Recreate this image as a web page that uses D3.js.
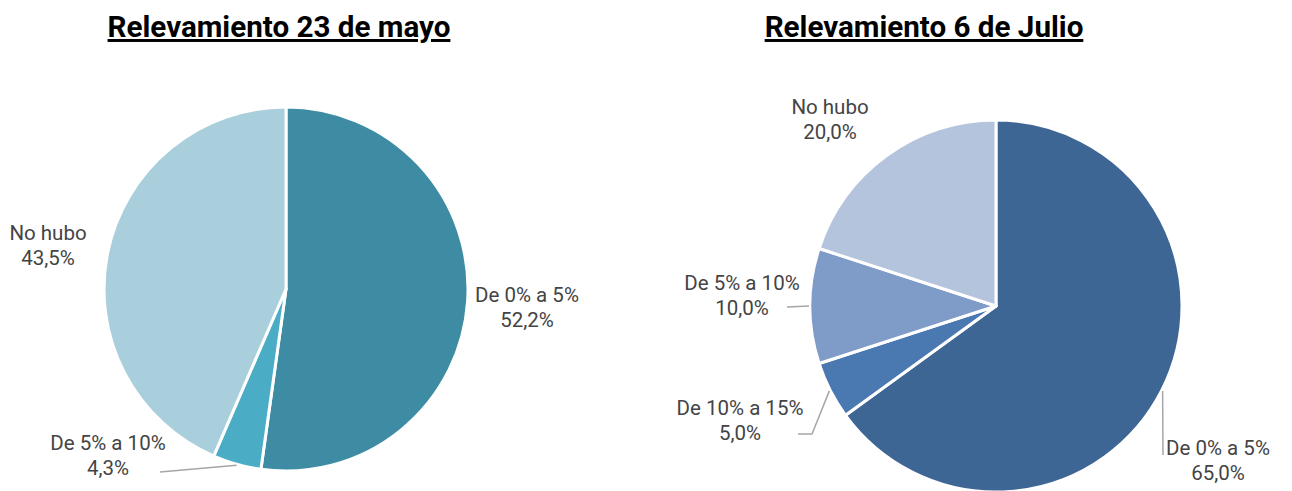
<!DOCTYPE html>
<html><head><meta charset="utf-8">
<script src="https://cdn.jsdelivr.net/npm/d3@7"></script>
<style>html,body{margin:0;padding:0;background:#fff;} svg{display:block;font-family:Roboto,"Noto Sans",sans-serif;}</style>
</head><body>
<script>
// Data
const titles = ["Relevamiento 23 de mayo", "Relevamiento 6 de Julio"];
const categoriesMayo = ["De 0% a 5%", "De 5% a 10%", "No hubo"];
const valuesMayo = [52.2, 4.3, 43.5];
const colorsMayo = ["#3d8ca3", "#4bacc6", "#a9cfdc"];
const categoriesJulio = ["De 0% a 5%", "De 10% a 15%", "De 5% a 10%", "No hubo"];
const valuesJulio = [65.0, 5.0, 10.0, 20.0];
const colorsJulio = ["#3e6695", "#4a78b0", "#7f9bc8", "#b4c4dd"];

// Layout (label positions relative to pie center, leader line extra points)
const layouts = [
  {cx: 286, cy: 289, r: 182, titleX: 279,
   labels: [
     {dx: 241, dy: 13, leader: null},
     {dx: -178, dy: 161, leader: [[-126, 183]]},
     {dx: -238, dy: -49, leader: null}
   ]},
  {cx: 996, cy: 306, r: 186, titleX: 924,
   labels: [
     {dx: 222, dy: 149, leader: [[167, 149]]},
     {dx: -256, dy: 109, leader: [[-184, 128], [-198, 128]]},
     {dx: -254, dy: -16, leader: [[-209, 1]]},
     {dx: -166, dy: -192, leader: null}
   ]}
];

const W = 1292, H = 491;
const svg = d3.select("body").append("svg").attr("width", W).attr("height", H);
const fmt = v => d3.format(".1f")(v).replace(".", ",") + "%";

function drawPie(idx, cats, vals, cols) {
  const L = layouts[idx];
  const g = svg.append("g").attr("transform", `translate(${L.cx},${L.cy})`);
  const pie = d3.pie().sort(null).value(d => d)(vals);
  const arc = d3.arc().innerRadius(0).outerRadius(L.r);
  g.selectAll("path.slice").data(pie).join("path")
    .attr("class", "slice")
    .attr("d", arc)
    .attr("fill", (d, i) => cols[i])
    .attr("stroke", "#fff").attr("stroke-width", 3).attr("stroke-linejoin", "round");

  pie.forEach((d, i) => {
    const lab = L.labels[i];
    const mid = (d.startAngle + d.endAngle) / 2;
    if (lab.leader) {
      const p0 = [Math.sin(mid) * (L.r + 1), -Math.cos(mid) * (L.r + 1)];
      const pts = [p0].concat(lab.leader);
      g.append("path").attr("d", d3.line()(pts))
        .attr("fill", "none").attr("stroke", "#a6a6a6").attr("stroke-width", 1.5);
    }
    const t = g.append("text").attr("text-anchor", "middle")
      .attr("font-size", 20.5).attr("fill", "#444");
    t.append("tspan").attr("x", lab.dx).attr("y", lab.dy).text(cats[i]);
    t.append("tspan").attr("x", lab.dx).attr("y", lab.dy + 25).text(fmt(vals[i]));
  });

  svg.append("text").attr("x", L.titleX).attr("y", 37)
    .attr("text-anchor", "middle").attr("font-size", 29.6).attr("font-weight", "bold")
    .attr("fill", "#000").attr("text-decoration", "underline")
    .text(titles[idx]);
}

drawPie(0, categoriesMayo, valuesMayo, colorsMayo);
drawPie(1, categoriesJulio, valuesJulio, colorsJulio);
</script>
</body></html>
